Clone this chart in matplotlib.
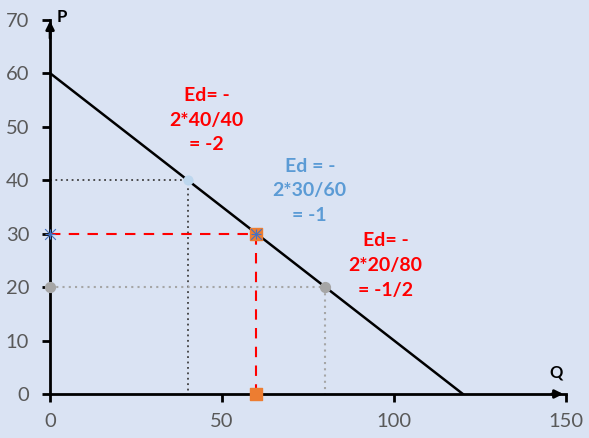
import matplotlib.pyplot as plt

# demand curve P = 60 - Q/2
demand_q = [0, 120]
demand_p = [60, 0]

# the three points on the curve
pts_q = [40, 60, 80]
pts_p = [40, 30, 20]

xticks = [0, 50, 100, 150]
yticks = [0, 10, 20, 30, 40, 50, 60, 70]

labels = ['Ed= -\n2*40/40\n= -2', 'Ed = -\n2*30/60\n= -1', 'Ed= -\n2*20/80\n= -1/2']
label_q = [45.5, 75.5, 97.5]
label_p = [51.2, 38.0, 24.0]
label_colors = ['#FF0000', '#5B9BD5', '#FF0000']

bg = '#DAE3F3'
tick_col = '#595959'

plt.rcParams['font.family'] = ['Lato', 'DejaVu Sans']

fig = plt.figure(figsize=(5.89, 4.38), dpi=100, facecolor=bg)
ax = fig.add_axes([0.085, 0.1005, 0.876, 0.8545], facecolor=bg)
ax.set_xlim(0, 150)
ax.set_ylim(0, 70)

for s in ['top', 'right']:
    ax.spines[s].set_visible(False)
for s in ['left', 'bottom']:
    ax.spines[s].set_linewidth(2)
    ax.spines[s].set_color('black')

ax.set_xticks(xticks)
ax.set_yticks(yticks)
ax.tick_params(axis='both', colors='black', labelcolor=tick_col, labelsize=14.5,
               width=2, length=6)
ax.tick_params(axis='x', pad=8)
ax.tick_params(axis='y', pad=9)

# arrows on axis ends
ax.annotate('', xy=(0, 70.3), xytext=(0, 66), xycoords='data',
            arrowprops=dict(arrowstyle='-|>', color='black', lw=2, mutation_scale=12),
            annotation_clip=False)
ax.annotate('', xy=(150, 0), xytext=(145, 0),
            arrowprops=dict(arrowstyle='-|>', color='black', lw=2, mutation_scale=12),
            annotation_clip=False)

# demand line
ax.plot(demand_q, demand_p, color='black', lw=1.8, zorder=3)

# guide lines
ax.plot([0, pts_q[0], pts_q[0]], [pts_p[0], pts_p[0], 0], color='#404040', lw=1.3,
        linestyle=(0, (1, 2)), zorder=2)
ax.plot([0, pts_q[1], pts_q[1]], [pts_p[1], pts_p[1], 0], color='#FF0000', lw=1.5,
        linestyle=(0, (5, 4)), zorder=2)
ax.plot([0, pts_q[2], pts_q[2]], [pts_p[2], pts_p[2], 0], color='#A6A6A6', lw=1.5,
        linestyle=(0, (1, 2)), zorder=2)

# markers
ax.scatter([pts_q[0]], [pts_p[0]], s=40, color='#BDD7EE', zorder=4, clip_on=False)
ax.scatter([pts_q[1], pts_q[1]], [pts_p[1], 0], s=70, marker='s', color='#ED7D31',
           zorder=4, clip_on=False)
ax.scatter([0, pts_q[1]], [pts_p[1], pts_p[1]], s=60, marker='x', color='#4472C4',
           lw=0.8, zorder=5, clip_on=False)
ax.scatter([0, pts_q[1]], [pts_p[1], pts_p[1]], s=60, marker='+', color='#4472C4',
           lw=0.8, zorder=5, clip_on=False)
ax.scatter([0, pts_q[2]], [pts_p[2], pts_p[2]], s=50, color='#A6A6A6', zorder=4,
           clip_on=False)

for txt, q, p, c in zip(labels, label_q, label_p, label_colors):
    ax.text(q, p, txt, color=c, fontsize=14, fontweight='bold', ha='center',
            va='center', linespacing=1.55)

ax.text(3.5, 70.5, 'P', fontsize=12, fontweight='bold', color='black',
        ha='center', va='center')
ax.text(147, 4, 'Q', fontsize=12, fontweight='bold', color='black',
        ha='center', va='center')

fig.savefig('out.png', dpi=100, facecolor=bg)
